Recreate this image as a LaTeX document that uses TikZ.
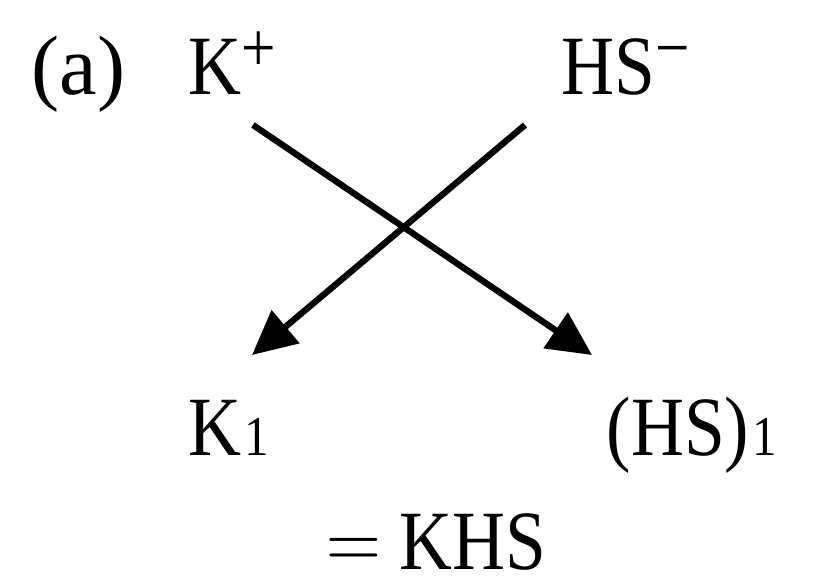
\documentclass[tikz,border=0pt]{standalone}
\usepackage{fontspec}
\setmainfont{Liberation Serif}
\usetikzlibrary{arrows.meta}
\newcommand{\narrow}[1]{\scalebox{0.87}[1]{#1}}
\newcommand{\ionsup}[1]{\raisebox{6.6pt}{\fontsize{20}{20}\selectfont #1}}
\newcommand{\ionsub}[1]{\hspace{0.04em}{\fontsize{16}{16}\selectfont #1}}

\begin{document}
\begin{tikzpicture}[
    chem/.style={inner sep=0pt, anchor=base west, font=\fontsize{24}{28}\selectfont},
    react/.style={line width=1.8pt, -{Triangle[length=0.44cm, width=0.42cm]}}
]
    \useasboundingbox (0,0) rectangle (8.21,5.81);

    \node[chem] (lbl) at (0.31,4.86) {(a)};
    \node[chem] (kp)  at (1.88,4.86) {\narrow{K\ionsup{+}}};
    \node[chem] (hsm) at (5.61,4.86) {\narrow{HS\ionsup{−}}};
    \node[chem] (k1)  at (1.88,1.25) {\narrow{K\ionsub{1}}};
    \node[chem] (hs1) at (6.06,1.25) {\narrow{(HS)\ionsub{1}}};
    \node[chem] (khs) at (3.26,0.12) {\narrow{$=$ KHS}};

    % arrow ends
    \coordinate (kpout)  at (2.53,4.56);
    \coordinate (hsmout) at (5.25,4.56);
    \coordinate (hs1in)  at (5.92,2.26);
    \coordinate (k1in)   at (2.52,2.26);

    \draw[react] (kpout) -- (hs1in);
    \draw[react] (hsmout) -- (k1in);
\end{tikzpicture}
\end{document}
